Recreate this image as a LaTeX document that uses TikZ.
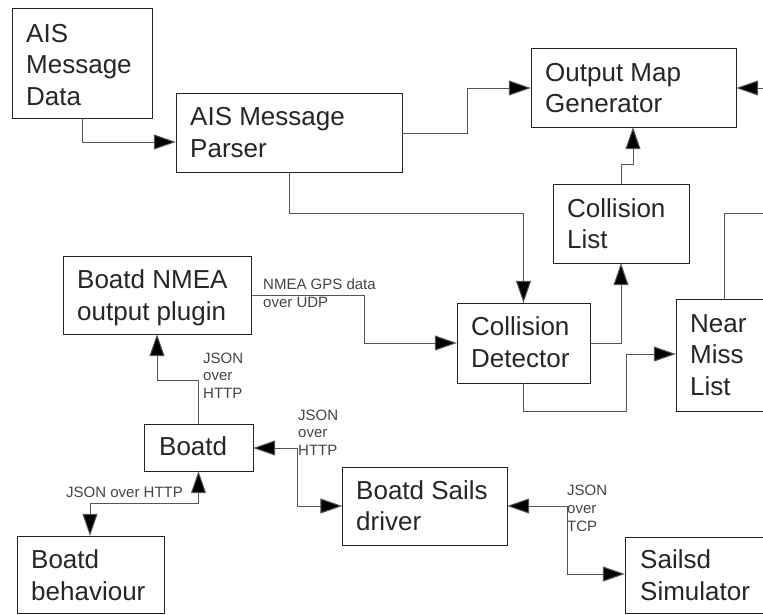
\documentclass[tikz,border=0pt]{standalone}
\usepackage{fontspec}
\setmainfont{Liberation Sans}
\usetikzlibrary{arrows.meta}
\definecolor{boxline}{HTML}{222222}
\definecolor{connline}{HTML}{555555}
\definecolor{txt}{HTML}{262626}
\definecolor{lbl}{HTML}{444444}
\tikzset{
  box/.style={draw=boxline, line width=1pt, fill=white},
  txtline/.style={anchor=base west, inner sep=0pt, text=txt, font=\fontsize{26}{31}\selectfont},
  lbltxt/.style={anchor=base west, inner sep=0pt, text=lbl, font=\fontsize{15}{17.5}\selectfont},
  conn/.style={draw=connline, line width=1pt, -{Triangle[length=22pt,width=15pt,fill=black]}},
  plain/.style={draw=connline, line width=1pt},
}
\begin{document}
\begin{tikzpicture}[x=1pt,y=-1pt]
\clip (0,0) rectangle (763,614);
\fill[white] (0,0) rectangle (763,614);
% boxes
\path[box] (12,8) rectangle (152,118);
\node[inner sep=0, minimum width=140, minimum height=110] (data) at (82,63) {};
\path[box] (176,93) rectangle (402,172);
\node[inner sep=0, minimum width=226, minimum height=79] (parser) at (289,132.5) {};
\path[box] (531,48) rectangle (736,127);
\node[inner sep=0, minimum width=205, minimum height=79] (omg) at (633.5,87.5) {};
\path[box] (553,184) rectangle (689,263);
\node[inner sep=0, minimum width=136, minimum height=79] (clist) at (621,223.5) {};
\path[box] (457,303) rectangle (590,383);
\node[inner sep=0, minimum width=133, minimum height=80] (cd) at (523.5,343) {};
\path[box] (676,299) rectangle (820,411);
\node[inner sep=0, minimum width=144, minimum height=112] (nml) at (748,355) {};
\path[box] (63,256) rectangle (251,334);
\node[inner sep=0, minimum width=188, minimum height=78] (nmea) at (157,295) {};
\path[box] (144,424) rectangle (253,471);
\node[inner sep=0, minimum width=109, minimum height=47] (boatd) at (198.5,447.5) {};
\path[box] (17,536) rectangle (164,613);
\node[inner sep=0, minimum width=147, minimum height=77] (beh) at (90.5,574.5) {};
\path[box] (342.5,467.5) rectangle (507,545);
\node[inner sep=0, minimum width=164.5, minimum height=77.5] (sails) at (424.75,506.25) {};
\path[box] (625,537) rectangle (820,613);
\node[inner sep=0, minimum width=195, minimum height=76] (sim) at (722.5,575) {};
% box texts
\node[txtline] (dataA) at (26,42) {AIS};
\node[txtline] (dataB) at (26,73) {Message};
\node[txtline] (dataC) at (26,105) {Data};
\node[txtline] (parserA) at (190,125) {AIS Message};
\node[txtline] (parserB) at (190,157) {Parser};
\node[txtline] (omgA) at (545,81) {Output Map};
\node[txtline] (omgB) at (545,112) {Generator};
\node[txtline] (clistA) at (567,217) {Collision};
\node[txtline] (clistB) at (567,248) {List};
\node[txtline] (cdA) at (471,335) {Collision};
\node[txtline] (cdB) at (471,367) {Detector};
\node[txtline] (nmlA) at (690,332) {Near};
\node[txtline] (nmlB) at (690,363) {Miss};
\node[txtline] (nmlC) at (690,395) {List};
\node[txtline] (nmeaA) at (77,288) {Boatd NMEA};
\node[txtline] (nmeaB) at (77,320) {output plugin};
\node[txtline] (boatdA) at (159,455) {Boatd};
\node[txtline] (behA) at (31,568) {Boatd};
\node[txtline] (behB) at (31,600) {behaviour};
\node[txtline] (sailsA) at (356,499) {Boatd Sails};
\node[txtline] (sailsB) at (356,530) {driver};
\node[txtline] (simA) at (640,568) {Sailsd};
\node[txtline] (simB) at (640,600) {Simulator};
% connectors
\draw[conn] (data.south) |- (parser.west |- 0,142);
\draw[conn] (parser.east |- 0,133) -| (467,88) -- (omg.west |- 0,88);
\draw[plain] (parser.south) |- (cd.north |- 0,213) -- (cd.north);
\draw[conn] (cd.north |- 0,213) -- (cd.north);
\draw[conn] (clist.north |- 0,184) |- (633,164) -- (omg.south -| 633,0);
\draw[conn] (cd.east |- 0,343) -| (clist.south);
\draw[conn] (cd.south) |- (626,411) |- (nml.west |- 0,354);
\coordinate (nmlout) at (763,213);
\draw[plain] (nml.north -| 724,0) |- (nmlout);
\coordinate (omgin) at (763,88);
\draw[conn] (omgin) -- (omg.east |- 0,88);
\draw[conn] (nmea.east |- 0,295) -| (364,343) -- (cd.west |- 0,343);
\draw[conn] (boatd.north) |- (157,380) -- (nmea.south -| 157,0);
\draw[conn] (297,448) -- (boatd.east |- 0,448);
\draw[conn] (297,448) |- (sails.west |- 0,506);
\draw[conn] (90,503) -- (boatd.south |- 0,503) -- (boatd.south);
\draw[conn] (90,503) -- (beh.north -| 90,0);
\draw[conn] (567,506) -- (sails.east |- 0,506);
\draw[conn] (567,506) |- (sim.west |- 0,574);
% labels
\node[lbltxt] (l1a) at (263,289) {NMEA GPS data};
\node[lbltxt] (l1b) at (263,307) {over UDP};
\node[lbltxt] (l2a) at (203,363) {JSON};
\node[lbltxt] (l2b) at (203,380) {over};
\node[lbltxt] (l2c) at (203,398) {HTTP};
\node[lbltxt] (l3a) at (298,420) {JSON};
\node[lbltxt] (l3b) at (298,437) {over};
\node[lbltxt] (l3c) at (298,455) {HTTP};
\node[lbltxt] (l4) at (66,497) {JSON over HTTP};
\node[lbltxt] (l5a) at (567,495) {JSON};
\node[lbltxt] (l5b) at (567,513) {over};
\node[lbltxt] (l5c) at (567,531) {TCP};
\end{tikzpicture}
\end{document}
